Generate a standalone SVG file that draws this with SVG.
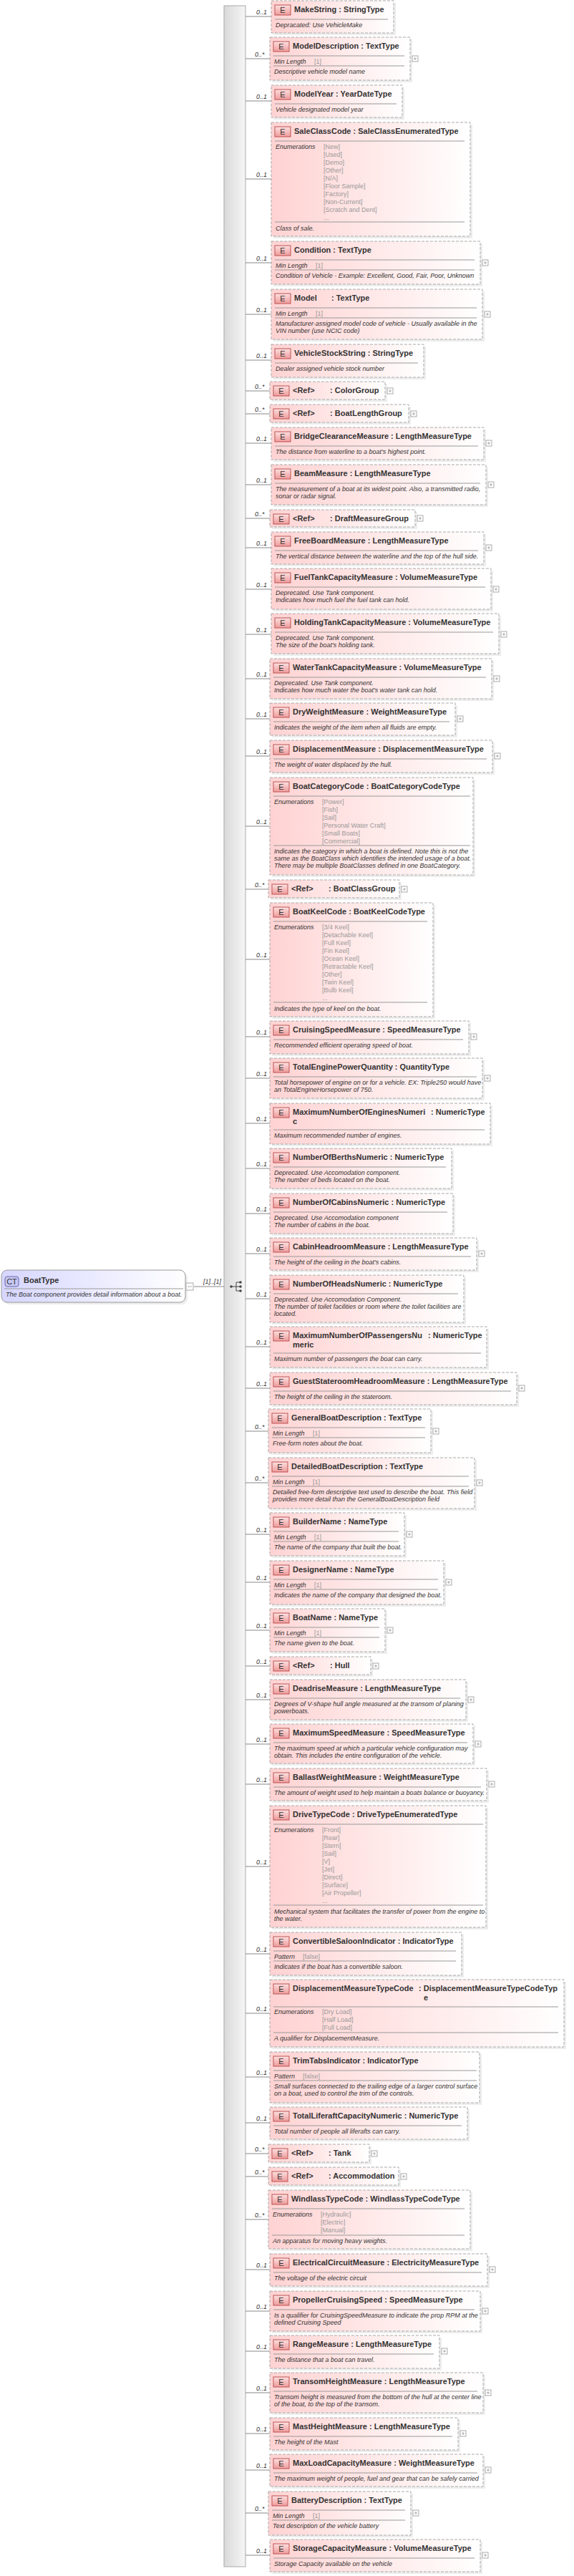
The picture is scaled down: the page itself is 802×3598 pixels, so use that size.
<svg xmlns="http://www.w3.org/2000/svg" width="802" height="3598" viewBox="0 0 802 3598">
<defs>
<linearGradient id="pg" x1="0" x2="1" y1="0" y2="0"><stop offset="0" stop-color="#ffd2d2"/><stop offset="1" stop-color="#ffffff"/></linearGradient>
<linearGradient id="eg" x1="0" x2="0" y1="0" y2="1"><stop offset="0" stop-color="#fde0e0"/><stop offset="1" stop-color="#ee9a9a"/></linearGradient>
<linearGradient id="bg" x1="0" x2="1" y1="0" y2="0"><stop offset="0" stop-color="#d9d9d9"/><stop offset="1" stop-color="#f6f6f6"/></linearGradient>
<linearGradient id="cg" x1="0" x2="1" y1="0" y2="0"><stop offset="0" stop-color="#d6d6ff"/><stop offset="1" stop-color="#ffffff"/></linearGradient>
</defs>
<style>
.box{fill:url(#pg);stroke:#aaa;stroke-dasharray:4 2}
.sh{fill:#000;opacity:.07}
.eb{fill:url(#eg);stroke:#b55}
.et{font-family:"Liberation Sans",Arial,sans-serif;font-size:11px;fill:#333;text-anchor:middle}
.t{font-family:"Liberation Sans",Arial,sans-serif;font-weight:bold;font-size:11px;fill:#333}
.d{font-family:"Liberation Sans",Arial,sans-serif;font-style:italic;font-size:9px;fill:#333}
.g{font-family:"Liberation Sans",Arial,sans-serif;font-size:9px;fill:#999}
.sep{stroke:#999;fill:none}
.c{stroke:#888;fill:none}
.m{font-family:"Liberation Sans",Arial,sans-serif;font-style:italic;font-size:9px;fill:#333}
.pb{fill:#fff;stroke:#aaa}
.pl{stroke:#aaa;fill:none}
</style>

<g id="connectors">
<rect x="313" y="8" width="30" height="3577" fill="url(#bg)" stroke="#aaa"/>
<path class="c" d="M271 1797H313"/>
<text class="m" x="284" y="1793">[1]..[1]</text>
<circle cx="323" cy="1797" r="1.8" fill="#444"/><path d="M323 1797H330M330 1791V1803M330 1791H336M330 1797H336M330 1803H336" stroke="#444" fill="none"/>
<circle cx="336" cy="1791" r="1.8" fill="#444"/><circle cx="336" cy="1797" r="1.8" fill="#444"/><circle cx="336" cy="1803" r="1.8" fill="#444"/>
<path class="c" d="M343 23H379M343 82H377M343 141H379M343 250H379M343 367H379M343 439H379M343 503H379M343 546H377M343 578H377M343 619H379M343 677H379M343 724H377M343 765H379M343 823H379M343 886H379M343 948H377M343 1004H377M343 1056H377M343 1154H377M343 1242H375M343 1340H377M343 1448H377M343 1506H377M343 1569H377M343 1632H377M343 1695H377M343 1751H377M343 1814H377M343 1881H377M343 1939H377M343 1999H375M343 2071H375M343 2143H377M343 2210H377M343 2277H377M343 2327H377M343 2374H377M343 2436H377M343 2492H377M343 2607H377M343 2729H377M343 2812H377M343 2901H377M343 2965H377M343 3008H375M343 3040H375M343 3100H375M343 3170H377M343 3228H377M343 3284H377M343 3342H377M343 3399H377M343 3450H377M343 3510H375M343 3569H377"/>
<g class="m">
<text x="358" y="20">0..1</text><text x="356" y="79">0..*</text><text x="358" y="138">0..1</text><text x="358" y="247">0..1</text><text x="358" y="364">0..1</text><text x="358" y="436">0..1</text><text x="358" y="500">0..1</text><text x="356" y="543">0..*</text><text x="356" y="575">0..*</text><text x="358" y="616">0..1</text><text x="358" y="674">0..1</text><text x="356" y="721">0..*</text><text x="358" y="762">0..1</text><text x="358" y="820">0..1</text><text x="358" y="883">0..1</text><text x="358" y="945">0..1</text><text x="358" y="1001">0..1</text><text x="358" y="1053">0..1</text><text x="358" y="1151">0..1</text><text x="356" y="1239">0..*</text><text x="358" y="1337">0..1</text><text x="358" y="1445">0..1</text><text x="358" y="1503">0..1</text><text x="358" y="1566">0..1</text><text x="358" y="1629">0..1</text><text x="358" y="1692">0..1</text><text x="358" y="1748">0..1</text><text x="358" y="1811">0..1</text><text x="358" y="1878">0..1</text><text x="358" y="1936">0..1</text><text x="356" y="1996">0..*</text><text x="356" y="2068">0..*</text><text x="358" y="2140">0..1</text><text x="358" y="2207">0..1</text><text x="358" y="2274">0..1</text><text x="358" y="2324">0..1</text><text x="358" y="2371">0..1</text><text x="358" y="2433">0..1</text><text x="358" y="2489">0..1</text><text x="358" y="2604">0..1</text><text x="358" y="2726">0..1</text><text x="358" y="2809">0..1</text><text x="358" y="2898">0..1</text><text x="358" y="2962">0..1</text><text x="356" y="3005">0..*</text><text x="356" y="3037">0..*</text><text x="356" y="3097">0..*</text><text x="358" y="3167">0..1</text><text x="358" y="3225">0..1</text><text x="358" y="3281">0..1</text><text x="358" y="3339">0..1</text><text x="358" y="3396">0..1</text><text x="358" y="3447">0..1</text><text x="356" y="3507">0..*</text><text x="358" y="3566">0..1</text>
</g>
</g>

<g id="BoatType">
<rect x="5" y="1777" width="257" height="45" rx="8" fill="#000" opacity=".07"/>
<rect x="2" y="1774" width="257" height="45" rx="8" fill="url(#cg)" stroke="#999"/>
<rect x="7" y="1783" width="19" height="14" rx="3" fill="#c8c8f4" stroke="#66a"/>
<text class="et" x="16.5" y="1794">CT</text>
<text class="t" x="33" y="1792">BoatType</text>
<path class="sep" d="M6 1800H256"/>
<text class="d" x="8" y="1811">The Boat component provides detail information about a boat.</text>
<rect class="pb" x="260" y="1792" width="10" height="10"/><path class="pl" d="M262 1797H268"/>
</g>

<g id="n1" transform="translate(379,1)"><rect class="sh" x="3" y="3" width="171" height="45"/><rect class="box" width="171" height="45"/><rect class="eb" x="5" y="6" width="22" height="14"/><text class="et" x="16" y="17">E</text><text class="t" x="32" y="16">MakeString : StringType</text><path class="sep" d="M5 26H163"/><text class="d" x="6" y="37">Depracated: Use VehicleMake</text></g>

<g id="n2" transform="translate(377,52)"><rect class="sh" x="3" y="3" width="196" height="60"/><rect class="box" width="196" height="60"/><rect class="eb" x="5" y="6" width="22" height="14"/><text class="et" x="16" y="17">E</text><text class="t" x="32" y="16">ModelDescription : TextType</text><path class="sep" d="M5 26H188M5 40H188"/><text class="d" x="6" y="37">Min Length</text><text class="g" x="62" y="37">[1]</text><text class="d" x="6" y="51">Descriptive vehicle model name</text><rect class="pb" x="199" y="26" width="8" height="8"/><path class="pl" d="M201 30H205M203 28V32"/></g>

<g id="n3" transform="translate(379,119)"><rect class="sh" x="3" y="3" width="183" height="45"/><rect class="box" width="183" height="45"/><rect class="eb" x="5" y="6" width="22" height="14"/><text class="et" x="16" y="17">E</text><text class="t" x="32" y="16">ModelYear : YearDateType</text><path class="sep" d="M5 26H175"/><text class="d" x="6" y="37">Vehicle designated model year</text></g>

<g id="n4" transform="translate(379,171)"><rect class="sh" x="3" y="3" width="278" height="159"/><rect class="box" width="278" height="159"/><rect class="eb" x="5" y="6" width="22" height="14"/><text class="et" x="16" y="17">E</text><text class="t" x="32" y="16">SaleClassCode : SaleClassEnumeratedType</text><path class="sep" d="M5 26H270M5 139H270"/><text class="d" x="6" y="37">Enumerations</text><g class="g"><text x="73" y="37">[New]</text><text x="73" y="48">[Used]</text><text x="73" y="59">[Demo]</text><text x="73" y="70">[Other]</text><text x="73" y="81">[N/A]</text><text x="73" y="92">[Floor Sample]</text><text x="73" y="103">[Factory]</text><text x="73" y="114">[Non-Current]</text><text x="73" y="125">[Scratch and Dent]</text><text x="73" y="136">...</text></g><text class="d" x="6" y="151">Class of sale.</text></g>

<g id="n5" transform="translate(379,337)"><rect class="sh" x="3" y="3" width="292" height="60"/><rect class="box" width="292" height="60"/><rect class="eb" x="5" y="6" width="22" height="14"/><text class="et" x="16" y="17">E</text><text class="t" x="32" y="16">Condition : TextType</text><path class="sep" d="M5 26H284M5 40H284"/><text class="d" x="6" y="37">Min Length</text><text class="g" x="62" y="37">[1]</text><text class="d" x="6" y="51">Condition of Vehicle - Example: Excellent, Good, Fair, Poor, Unknown</text><rect class="pb" x="295" y="26" width="8" height="8"/><path class="pl" d="M297 30H301M299 28V32"/></g>

<g id="n6" transform="translate(379,404)"><rect class="sh" x="3" y="3" width="295" height="70"/><rect class="box" width="295" height="70"/><rect class="eb" x="5" y="6" width="22" height="14"/><text class="et" x="16" y="17">E</text><text class="t" x="32" y="16">Model</text><text class="t" x="84" y="16">: TextType</text><path class="sep" d="M5 26H287M5 40H287"/><text class="d" x="6" y="37">Min Length</text><text class="g" x="62" y="37">[1]</text><text class="d" x="6" y="51">Manufacturer-assigned model code of vehicle - Usually available in the</text><text class="d" x="6" y="61">VIN number (use NCIC code)</text><rect class="pb" x="298" y="31" width="8" height="8"/><path class="pl" d="M300 35H304M302 33V37"/></g>

<g id="n7" transform="translate(379,481)"><rect class="sh" x="3" y="3" width="213" height="46"/><rect class="box" width="213" height="46"/><rect class="eb" x="5" y="6" width="22" height="14"/><text class="et" x="16" y="17">E</text><text class="t" x="32" y="16">VehicleStockString : StringType</text><path class="sep" d="M5 26H205"/><text class="d" x="6" y="37">Dealer assigned vehicle stock number</text></g>

<g id="n8" transform="translate(377,533)"><rect class="sh" x="3" y="3" width="161" height="25"/><rect class="box" width="161" height="25"/><rect class="eb" x="5" y="6" width="22" height="14"/><text class="et" x="16" y="17">E</text><text class="t" x="32" y="16">&lt;Ref&gt;</text><text class="t" x="84" y="16">: ColorGroup</text><rect class="pb" x="164" y="9" width="8" height="8"/><path class="pl" d="M166 13H170M168 11V15"/></g>

<g id="n9" transform="translate(377,565)"><rect class="sh" x="3" y="3" width="194" height="25"/><rect class="box" width="194" height="25"/><rect class="eb" x="5" y="6" width="22" height="14"/><text class="et" x="16" y="17">E</text><text class="t" x="32" y="16">&lt;Ref&gt;</text><text class="t" x="84" y="16">: BoatLengthGroup</text><rect class="pb" x="197" y="9" width="8" height="8"/><path class="pl" d="M199 13H203M201 11V15"/></g>

<g id="n10" transform="translate(379,597)"><rect class="sh" x="3" y="3" width="297" height="45"/><rect class="box" width="297" height="45"/><rect class="eb" x="5" y="6" width="22" height="14"/><text class="et" x="16" y="17">E</text><text class="t" x="32" y="16">BridgeClearanceMeasure : LengthMeasureType</text><path class="sep" d="M5 26H289"/><text class="d" x="6" y="37">The distance from waterline to a boat's highest point.</text><rect class="pb" x="300" y="18" width="8" height="8"/><path class="pl" d="M302 22H306M304 20V24"/></g>

<g id="n11" transform="translate(379,649)"><rect class="sh" x="3" y="3" width="300" height="56"/><rect class="box" width="300" height="56"/><rect class="eb" x="5" y="6" width="22" height="14"/><text class="et" x="16" y="17">E</text><text class="t" x="32" y="16">BeamMeasure : LengthMeasureType</text><path class="sep" d="M5 26H292"/><text class="d" x="6" y="37">The measurement of a boat at its widest point. Also, a transmitted radio,</text><text class="d" x="6" y="47">sonar or radar signal.</text><rect class="pb" x="303" y="24" width="8" height="8"/><path class="pl" d="M305 28H309M307 26V30"/></g>

<g id="n12" transform="translate(377,712)"><rect class="sh" x="3" y="3" width="203" height="24"/><rect class="box" width="203" height="24"/><rect class="eb" x="5" y="6" width="22" height="14"/><text class="et" x="16" y="17">E</text><text class="t" x="32" y="16">&lt;Ref&gt;</text><text class="t" x="84" y="16">: DraftMeasureGroup</text><rect class="pb" x="206" y="8" width="8" height="8"/><path class="pl" d="M208 12H212M210 10V14"/></g>

<g id="n13" transform="translate(379,743)"><rect class="sh" x="3" y="3" width="297" height="45"/><rect class="box" width="297" height="45"/><rect class="eb" x="5" y="6" width="22" height="14"/><text class="et" x="16" y="17">E</text><text class="t" x="32" y="16">FreeBoardMeasure : LengthMeasureType</text><path class="sep" d="M5 26H289"/><text class="d" x="6" y="37">The vertical distance between the waterline and the top of the hull side.</text><rect class="pb" x="300" y="18" width="8" height="8"/><path class="pl" d="M302 22H306M304 20V24"/></g>

<g id="n14" transform="translate(379,794)"><rect class="sh" x="3" y="3" width="307" height="57"/><rect class="box" width="307" height="57"/><rect class="eb" x="5" y="6" width="22" height="14"/><text class="et" x="16" y="17">E</text><text class="t" x="32" y="16">FuelTankCapacityMeasure : VolumeMeasureType</text><path class="sep" d="M5 26H299"/><text class="d" x="6" y="37">Deprecated. Use Tank component.</text><text class="d" x="6" y="47">Indicates how much fuel the fuel tank can hold.</text><rect class="pb" x="310" y="25" width="8" height="8"/><path class="pl" d="M312 29H316M314 27V31"/></g>

<g id="n15" transform="translate(379,857)"><rect class="sh" x="3" y="3" width="318" height="56"/><rect class="box" width="318" height="56"/><rect class="eb" x="5" y="6" width="22" height="14"/><text class="et" x="16" y="17">E</text><text class="t" x="32" y="16">HoldingTankCapacityMeasure : VolumeMeasureType</text><path class="sep" d="M5 26H310"/><text class="d" x="6" y="37">Deprecated. Use Tank component.</text><text class="d" x="6" y="47">The size of the boat's holding tank.</text><rect class="pb" x="321" y="25" width="8" height="8"/><path class="pl" d="M323 29H327M325 27V31"/></g>

<g id="n16" transform="translate(377,920)"><rect class="sh" x="3" y="3" width="310" height="56"/><rect class="box" width="310" height="56"/><rect class="eb" x="5" y="6" width="22" height="14"/><text class="et" x="16" y="17">E</text><text class="t" x="32" y="16">WaterTankCapacityMeasure : VolumeMeasureType</text><path class="sep" d="M5 26H302"/><text class="d" x="6" y="37">Deprecated. Use Tank component.</text><text class="d" x="6" y="47">Indicates how much water the boat's water tank can hold.</text><rect class="pb" x="313" y="24" width="8" height="8"/><path class="pl" d="M315 28H319M317 26V30"/></g>

<g id="n17" transform="translate(377,982)"><rect class="sh" x="3" y="3" width="259" height="45"/><rect class="box" width="259" height="45"/><rect class="eb" x="5" y="6" width="22" height="14"/><text class="et" x="16" y="17">E</text><text class="t" x="32" y="16">DryWeightMeasure : WeightMeasureType</text><path class="sep" d="M5 26H251"/><text class="d" x="6" y="37">Indicates the weight of the item when all fluids are empty.</text><rect class="pb" x="262" y="18" width="8" height="8"/><path class="pl" d="M264 22H268M266 20V24"/></g>

<g id="n18" transform="translate(377,1034)"><rect class="sh" x="3" y="3" width="311" height="45"/><rect class="box" width="311" height="45"/><rect class="eb" x="5" y="6" width="22" height="14"/><text class="et" x="16" y="17">E</text><text class="t" x="32" y="16">DisplacementMeasure : DisplacementMeasureType</text><path class="sep" d="M5 26H303"/><text class="d" x="6" y="37">The weight of water displaced by the hull.</text><rect class="pb" x="314" y="18" width="8" height="8"/><path class="pl" d="M316 22H320M318 20V24"/></g>

<g id="n19" transform="translate(377,1086)"><rect class="sh" x="3" y="3" width="284" height="136"/><rect class="box" width="284" height="136"/><rect class="eb" x="5" y="6" width="22" height="14"/><text class="et" x="16" y="17">E</text><text class="t" x="32" y="16">BoatCategoryCode : BoatCategoryCodeType</text><path class="sep" d="M5 26H280M5 95H280"/><text class="d" x="6" y="37">Enumerations</text><g class="g"><text x="73" y="37">[Power]</text><text x="73" y="48">[Fish]</text><text x="73" y="59">[Sail]</text><text x="73" y="70">[Personal Water Craft]</text><text x="73" y="81">[Small Boats]</text><text x="73" y="92">[Commercial]</text></g><text class="d" x="6" y="106">Indicates the category in which a boat is defined. Note this is not the</text><text class="d" x="6" y="116">same as the BoatClass which identifies the intended usage of a boat.</text><text class="d" x="6" y="126">There may be multiple BoatClasses defined in one BoatCategory.</text></g>

<g id="n20" transform="translate(375,1229)"><rect class="sh" x="3" y="3" width="183" height="25"/><rect class="box" width="183" height="25"/><rect class="eb" x="5" y="6" width="22" height="14"/><text class="et" x="16" y="17">E</text><text class="t" x="32" y="16">&lt;Ref&gt;</text><text class="t" x="84" y="16">: BoatClassGroup</text><rect class="pb" x="186" y="9" width="8" height="8"/><path class="pl" d="M188 13H192M190 11V15"/></g>

<g id="n21" transform="translate(377,1261)"><rect class="sh" x="3" y="3" width="228" height="159"/><rect class="box" width="228" height="159"/><rect class="eb" x="5" y="6" width="22" height="14"/><text class="et" x="16" y="17">E</text><text class="t" x="32" y="16">BoatKeelCode : BoatKeelCodeType</text><path class="sep" d="M5 26H220M5 139H220"/><text class="d" x="6" y="37">Enumerations</text><g class="g"><text x="73" y="37">[3/4 Keel]</text><text x="73" y="48">[Detachable Keel]</text><text x="73" y="59">[Full Keel]</text><text x="73" y="70">[Fin Keel]</text><text x="73" y="81">[Ocean Keel]</text><text x="73" y="92">[Retractable Keel]</text><text x="73" y="103">[Other]</text><text x="73" y="114">[Twin Keel]</text><text x="73" y="125">[Bulb Keel]</text><text x="73" y="136">...</text></g><text class="d" x="6" y="151">Indicates the type of keel on the boat.</text></g>

<g id="n22" transform="translate(377,1426)"><rect class="sh" x="3" y="3" width="278" height="46"/><rect class="box" width="278" height="46"/><rect class="eb" x="5" y="6" width="22" height="14"/><text class="et" x="16" y="17">E</text><text class="t" x="32" y="16">CruisingSpeedMeasure : SpeedMeasureType</text><path class="sep" d="M5 26H270"/><text class="d" x="6" y="37">Recommended efficient operating speed of boat.</text><rect class="pb" x="281" y="18" width="8" height="8"/><path class="pl" d="M283 22H287M285 20V24"/></g>

<g id="n23" transform="translate(377,1478)"><rect class="sh" x="3" y="3" width="297" height="56"/><rect class="box" width="297" height="56"/><rect class="eb" x="5" y="6" width="22" height="14"/><text class="et" x="16" y="17">E</text><text class="t" x="32" y="16">TotalEnginePowerQuantity : QuantityType</text><path class="sep" d="M5 26H289"/><text class="d" x="6" y="37">Total horsepower of engine on or for a vehicle. EX: Triple250 would have</text><text class="d" x="6" y="47">an TotalEngineHorsepower of 750.</text><rect class="pb" x="300" y="24" width="8" height="8"/><path class="pl" d="M302 28H306M304 26V30"/></g>

<g id="n24" transform="translate(377,1541)"><rect class="sh" x="3" y="3" width="308" height="57"/><rect class="box" width="308" height="57"/><rect class="eb" x="5" y="6" width="22" height="14"/><text class="et" x="16" y="17">E</text><text class="t" x="32" y="16">MaximumNumberOfEnginesNumeri</text><text class="t" x="32" y="29">c</text><text class="t" x="225" y="16">: NumericType</text><path class="sep" d="M5 37H300"/><text class="d" x="6" y="48">Maximum recommended number of engines.</text></g>

<g id="n25" transform="translate(377,1604)"><rect class="sh" x="3" y="3" width="254" height="56"/><rect class="box" width="254" height="56"/><rect class="eb" x="5" y="6" width="22" height="14"/><text class="et" x="16" y="17">E</text><text class="t" x="32" y="16">NumberOfBerthsNumeric : NumericType</text><path class="sep" d="M5 26H246"/><text class="d" x="6" y="37">Deprecated. Use Accomodation component.</text><text class="d" x="6" y="47">The number of beds located on the boat.</text></g>

<g id="n26" transform="translate(377,1667)"><rect class="sh" x="3" y="3" width="256" height="56"/><rect class="box" width="256" height="56"/><rect class="eb" x="5" y="6" width="22" height="14"/><text class="et" x="16" y="17">E</text><text class="t" x="32" y="16">NumberOfCabinsNumeric : NumericType</text><path class="sep" d="M5 26H248"/><text class="d" x="6" y="37">Deprecated. Use Accomodation component</text><text class="d" x="6" y="47">The number of cabins in the boat.</text></g>

<g id="n27" transform="translate(377,1729)"><rect class="sh" x="3" y="3" width="289" height="45"/><rect class="box" width="289" height="45"/><rect class="eb" x="5" y="6" width="22" height="14"/><text class="et" x="16" y="17">E</text><text class="t" x="32" y="16">CabinHeadroomMeasure : LengthMeasureType</text><path class="sep" d="M5 26H281"/><text class="d" x="6" y="37">The height of the ceiling in the boat's cabins.</text><rect class="pb" x="292" y="18" width="8" height="8"/><path class="pl" d="M294 22H298M296 20V24"/></g>

<g id="n28" transform="translate(377,1781)"><rect class="sh" x="3" y="3" width="271" height="66"/><rect class="box" width="271" height="66"/><rect class="eb" x="5" y="6" width="22" height="14"/><text class="et" x="16" y="17">E</text><text class="t" x="32" y="16">NumberOfHeadsNumeric : NumericType</text><path class="sep" d="M5 26H263"/><text class="d" x="6" y="37">Deprecated. Use Accomodation Component.</text><text class="d" x="6" y="47">The number of toilet facilities or room where the toilet facilities are</text><text class="d" x="6" y="57">located.</text></g>

<g id="n29" transform="translate(377,1853)"><rect class="sh" x="3" y="3" width="303" height="57"/><rect class="box" width="303" height="57"/><rect class="eb" x="5" y="6" width="22" height="14"/><text class="et" x="16" y="17">E</text><text class="t" x="32" y="16">MaximumNumberOfPassengersNu</text><text class="t" x="32" y="29">meric</text><text class="t" x="221" y="16">: NumericType</text><path class="sep" d="M5 37H295"/><text class="d" x="6" y="48">Maximum number of passengers the boat can carry.</text></g>

<g id="n30" transform="translate(377,1917)"><rect class="sh" x="3" y="3" width="345" height="45"/><rect class="box" width="345" height="45"/><rect class="eb" x="5" y="6" width="22" height="14"/><text class="et" x="16" y="17">E</text><text class="t" x="32" y="16">GuestStateroomHeadroomMeasure : LengthMeasureType</text><path class="sep" d="M5 26H337"/><text class="d" x="6" y="37">The height of the ceiling in the stateroom.</text><rect class="pb" x="348" y="18" width="8" height="8"/><path class="pl" d="M350 22H354M352 20V24"/></g>

<g id="n31" transform="translate(375,1968)"><rect class="sh" x="3" y="3" width="227" height="61"/><rect class="box" width="227" height="61"/><rect class="eb" x="5" y="6" width="22" height="14"/><text class="et" x="16" y="17">E</text><text class="t" x="32" y="16">GeneralBoatDescription : TextType</text><path class="sep" d="M5 26H219M5 40H219"/><text class="d" x="6" y="37">Min Length</text><text class="g" x="62" y="37">[1]</text><text class="d" x="6" y="51">Free-form notes about the boat.</text><rect class="pb" x="230" y="27" width="8" height="8"/><path class="pl" d="M232 31H236M234 29V33"/></g>

<g id="n32" transform="translate(375,2036)"><rect class="sh" x="3" y="3" width="288" height="71"/><rect class="box" width="288" height="71"/><rect class="eb" x="5" y="6" width="22" height="14"/><text class="et" x="16" y="17">E</text><text class="t" x="32" y="16">DetailedBoatDescription : TextType</text><path class="sep" d="M5 26H280M5 40H280"/><text class="d" x="6" y="37">Min Length</text><text class="g" x="62" y="37">[1]</text><text class="d" x="6" y="51">Detailed free-form descriptive text used to describe the boat. This field</text><text class="d" x="6" y="61">provides more detail than the GeneralBoatDescription field</text><rect class="pb" x="291" y="31" width="8" height="8"/><path class="pl" d="M293 35H297M295 33V37"/></g>

<g id="n33" transform="translate(377,2113)"><rect class="sh" x="3" y="3" width="188" height="60"/><rect class="box" width="188" height="60"/><rect class="eb" x="5" y="6" width="22" height="14"/><text class="et" x="16" y="17">E</text><text class="t" x="32" y="16">BuilderName : NameType</text><path class="sep" d="M5 26H180M5 40H180"/><text class="d" x="6" y="37">Min Length</text><text class="g" x="62" y="37">[1]</text><text class="d" x="6" y="51">The name of the company that built the boat.</text><rect class="pb" x="191" y="26" width="8" height="8"/><path class="pl" d="M193 30H197M195 28V32"/></g>

<g id="n34" transform="translate(377,2180)"><rect class="sh" x="3" y="3" width="243" height="61"/><rect class="box" width="243" height="61"/><rect class="eb" x="5" y="6" width="22" height="14"/><text class="et" x="16" y="17">E</text><text class="t" x="32" y="16">DesignerName : NameType</text><path class="sep" d="M5 26H235M5 40H235"/><text class="d" x="6" y="37">Min Length</text><text class="g" x="62" y="37">[1]</text><text class="d" x="6" y="51">Indicates the name of the company that designed the boat.</text><rect class="pb" x="246" y="26" width="8" height="8"/><path class="pl" d="M248 30H252M250 28V32"/></g>

<g id="n35" transform="translate(377,2247)"><rect class="sh" x="3" y="3" width="161" height="60"/><rect class="box" width="161" height="60"/><rect class="eb" x="5" y="6" width="22" height="14"/><text class="et" x="16" y="17">E</text><text class="t" x="32" y="16">BoatName : NameType</text><path class="sep" d="M5 26H153M5 40H153"/><text class="d" x="6" y="37">Min Length</text><text class="g" x="62" y="37">[1]</text><text class="d" x="6" y="51">The name given to the boat.</text><rect class="pb" x="164" y="26" width="8" height="8"/><path class="pl" d="M166 30H170M168 28V32"/></g>

<g id="n36" transform="translate(377,2314)"><rect class="sh" x="3" y="3" width="141" height="25"/><rect class="box" width="141" height="25"/><rect class="eb" x="5" y="6" width="22" height="14"/><text class="et" x="16" y="17">E</text><text class="t" x="32" y="16">&lt;Ref&gt;</text><text class="t" x="84" y="16">: Hull</text><rect class="pb" x="144" y="9" width="8" height="8"/><path class="pl" d="M146 13H150M148 11V15"/></g>

<g id="n37" transform="translate(377,2346)"><rect class="sh" x="3" y="3" width="274" height="56"/><rect class="box" width="274" height="56"/><rect class="eb" x="5" y="6" width="22" height="14"/><text class="et" x="16" y="17">E</text><text class="t" x="32" y="16">DeadriseMeasure : LengthMeasureType</text><path class="sep" d="M5 26H266"/><text class="d" x="6" y="37">Degrees of V-shape hull angle measured at the transom of planing</text><text class="d" x="6" y="47">powerboats.</text><rect class="pb" x="277" y="24" width="8" height="8"/><path class="pl" d="M279 28H283M281 26V30"/></g>

<g id="n38" transform="translate(377,2408)"><rect class="sh" x="3" y="3" width="284" height="55"/><rect class="box" width="284" height="55"/><rect class="eb" x="5" y="6" width="22" height="14"/><text class="et" x="16" y="17">E</text><text class="t" x="32" y="16">MaximumSpeedMeasure : SpeedMeasureType</text><path class="sep" d="M5 26H276"/><text class="d" x="6" y="37">The maximum speed at which a particular vehicle configuration may</text><text class="d" x="6" y="47">obtain. This includes the entire configuration of the vehicle.</text><rect class="pb" x="287" y="24" width="8" height="8"/><path class="pl" d="M289 28H293M291 26V30"/></g>

<g id="n39" transform="translate(377,2470)"><rect class="sh" x="3" y="3" width="303" height="45"/><rect class="box" width="303" height="45"/><rect class="eb" x="5" y="6" width="22" height="14"/><text class="et" x="16" y="17">E</text><text class="t" x="32" y="16">BallastWeightMeasure : WeightMeasureType</text><path class="sep" d="M5 26H295"/><text class="d" x="6" y="37">The amount of weight used to help maintain a boats balance or buoyancy.</text><rect class="pb" x="306" y="18" width="8" height="8"/><path class="pl" d="M308 22H312M310 20V24"/></g>

<g id="n40" transform="translate(377,2522)"><rect class="sh" x="3" y="3" width="302" height="170"/><rect class="box" width="302" height="170"/><rect class="eb" x="5" y="6" width="22" height="14"/><text class="et" x="16" y="17">E</text><text class="t" x="32" y="16">DriveTypeCode : DriveTypeEnumeratedType</text><path class="sep" d="M5 26H298M5 139H298"/><text class="d" x="6" y="37">Enumerations</text><g class="g"><text x="73" y="37">[Front]</text><text x="73" y="48">[Rear]</text><text x="73" y="59">[Stern]</text><text x="73" y="70">[Sail]</text><text x="73" y="81">[V]</text><text x="73" y="92">[Jet]</text><text x="73" y="103">[Direct]</text><text x="73" y="114">[Surface]</text><text x="73" y="125">[Air Propeller]</text><text x="73" y="136">...</text></g><text class="d" x="6" y="151">Mechanical system that facilitates the transfer of power from the engine to</text><text class="d" x="6" y="161">the water.</text></g>

<g id="n41" transform="translate(377,2699)"><rect class="sh" x="3" y="3" width="268" height="60"/><rect class="box" width="268" height="60"/><rect class="eb" x="5" y="6" width="22" height="14"/><text class="et" x="16" y="17">E</text><text class="t" x="32" y="16">ConvertibleSaloonIndicator : IndicatorType</text><path class="sep" d="M5 26H260M5 40H260"/><text class="d" x="6" y="37">Pattern</text><text class="g" x="46" y="37">[false]</text><text class="d" x="6" y="51">Indicates if the boat has a convertible saloon.</text></g>

<g id="n42" transform="translate(377,2765)"><rect class="sh" x="3" y="3" width="411" height="94"/><rect class="box" width="411" height="94"/><rect class="eb" x="5" y="6" width="22" height="14"/><text class="et" x="16" y="17">E</text><text class="t" x="32" y="16">DisplacementMeasureTypeCode</text><text class="t" x="208" y="16">: DisplacementMeasureTypeCodeTyp</text><text class="t" x="215" y="29">e</text><path class="sep" d="M5 38H403M5 74H403"/><text class="d" x="6" y="48">Enumerations</text><g class="g"><text x="73" y="48">[Dry Load]</text><text x="73" y="59">[Half Load]</text><text x="73" y="70">[Full Load]</text></g><text class="d" x="6" y="85">A qualifier for DisplacementMeasure.</text></g>

<g id="n43" transform="translate(377,2866)"><rect class="sh" x="3" y="3" width="293" height="71"/><rect class="box" width="293" height="71"/><rect class="eb" x="5" y="6" width="22" height="14"/><text class="et" x="16" y="17">E</text><text class="t" x="32" y="16">TrimTabsIndicator : IndicatorType</text><path class="sep" d="M5 26H289M5 40H289"/><text class="d" x="6" y="37">Pattern</text><text class="g" x="46" y="37">[false]</text><text class="d" x="6" y="51">Small surfaces connected to the trailing edge of a larger control surface</text><text class="d" x="6" y="61">on a boat, used to control the trim of the controls.</text></g>

<g id="n44" transform="translate(377,2943)"><rect class="sh" x="3" y="3" width="276" height="45"/><rect class="box" width="276" height="45"/><rect class="eb" x="5" y="6" width="22" height="14"/><text class="et" x="16" y="17">E</text><text class="t" x="32" y="16">TotalLiferaftCapacityNumeric : NumericType</text><path class="sep" d="M5 26H268"/><text class="d" x="6" y="37">Total number of people all liferafts can carry.</text></g>

<g id="n45" transform="translate(375,2995)"><rect class="sh" x="3" y="3" width="141" height="25"/><rect class="box" width="141" height="25"/><rect class="eb" x="5" y="6" width="22" height="14"/><text class="et" x="16" y="17">E</text><text class="t" x="32" y="16">&lt;Ref&gt;</text><text class="t" x="84" y="16">: Tank</text><rect class="pb" x="144" y="9" width="8" height="8"/><path class="pl" d="M146 13H150M148 11V15"/></g>

<g id="n46" transform="translate(375,3027)"><rect class="sh" x="3" y="3" width="182" height="25"/><rect class="box" width="182" height="25"/><rect class="eb" x="5" y="6" width="22" height="14"/><text class="et" x="16" y="17">E</text><text class="t" x="32" y="16">&lt;Ref&gt;</text><text class="t" x="84" y="16">: Accommodation</text><rect class="pb" x="185" y="9" width="8" height="8"/><path class="pl" d="M187 13H191M189 11V15"/></g>

<g id="n47" transform="translate(375,3059)"><rect class="sh" x="3" y="3" width="282" height="82"/><rect class="box" width="282" height="82"/><rect class="eb" x="5" y="6" width="22" height="14"/><text class="et" x="16" y="17">E</text><text class="t" x="32" y="16">WindlassTypeCode : WindlassTypeCodeType</text><path class="sep" d="M5 26H274M5 63H274"/><text class="d" x="6" y="37">Enumerations</text><g class="g"><text x="73" y="37">[Hydraulic]</text><text x="73" y="48">[Electric]</text><text x="73" y="59">[Manual]</text></g><text class="d" x="6" y="74">An apparatus for moving heavy weights.</text></g>

<g id="n48" transform="translate(377,3148)"><rect class="sh" x="3" y="3" width="304" height="45"/><rect class="box" width="304" height="45"/><rect class="eb" x="5" y="6" width="22" height="14"/><text class="et" x="16" y="17">E</text><text class="t" x="32" y="16">ElectricalCircuitMeasure : ElectricityMeasureType</text><path class="sep" d="M5 26H296"/><text class="d" x="6" y="37">The voltage of the electric circuit</text><rect class="pb" x="307" y="18" width="8" height="8"/><path class="pl" d="M309 22H313M311 20V24"/></g>

<g id="n49" transform="translate(377,3200)"><rect class="sh" x="3" y="3" width="294" height="56"/><rect class="box" width="294" height="56"/><rect class="eb" x="5" y="6" width="22" height="14"/><text class="et" x="16" y="17">E</text><text class="t" x="32" y="16">PropellerCruisingSpeed : SpeedMeasureType</text><path class="sep" d="M5 26H286"/><text class="d" x="6" y="37">Is a qualifier for CruisingSpeedMeasure to indicate the prop RPM at the</text><text class="d" x="6" y="47">defined Cruising Speed</text><rect class="pb" x="297" y="24" width="8" height="8"/><path class="pl" d="M299 28H303M301 26V30"/></g>

<g id="n50" transform="translate(377,3262)"><rect class="sh" x="3" y="3" width="237" height="46"/><rect class="box" width="237" height="46"/><rect class="eb" x="5" y="6" width="22" height="14"/><text class="et" x="16" y="17">E</text><text class="t" x="32" y="16">RangeMeasure : LengthMeasureType</text><path class="sep" d="M5 26H229"/><text class="d" x="6" y="37">The distance that a boat can travel.</text><rect class="pb" x="240" y="18" width="8" height="8"/><path class="pl" d="M242 22H246M244 20V24"/></g>

<g id="n51" transform="translate(377,3314)"><rect class="sh" x="3" y="3" width="298" height="56"/><rect class="box" width="298" height="56"/><rect class="eb" x="5" y="6" width="22" height="14"/><text class="et" x="16" y="17">E</text><text class="t" x="32" y="16">TransomHeightMeasure : LengthMeasureType</text><path class="sep" d="M5 26H290"/><text class="d" x="6" y="37">Transom height is measured from the bottom of the hull at the center line</text><text class="d" x="6" y="47">of the boat, to the top of the transom.</text><rect class="pb" x="301" y="24" width="8" height="8"/><path class="pl" d="M303 28H307M305 26V30"/></g>

<g id="n52" transform="translate(377,3377)"><rect class="sh" x="3" y="3" width="263" height="45"/><rect class="box" width="263" height="45"/><rect class="eb" x="5" y="6" width="22" height="14"/><text class="et" x="16" y="17">E</text><text class="t" x="32" y="16">MastHeightMeasure : LengthMeasureType</text><path class="sep" d="M5 26H255"/><text class="d" x="6" y="37">The height of the Mast</text><rect class="pb" x="266" y="18" width="8" height="8"/><path class="pl" d="M268 22H272M270 20V24"/></g>

<g id="n53" transform="translate(377,3428)"><rect class="sh" x="3" y="3" width="298" height="45"/><rect class="box" width="298" height="45"/><rect class="eb" x="5" y="6" width="22" height="14"/><text class="et" x="16" y="17">E</text><text class="t" x="32" y="16">MaxLoadCapacityMeasure : WeightMeasureType</text><path class="sep" d="M5 26H290"/><text class="d" x="6" y="37">The maximum weight of people, fuel and gear that can be safely carried</text><rect class="pb" x="301" y="18" width="8" height="8"/><path class="pl" d="M303 22H307M305 20V24"/></g>

<g id="n54" transform="translate(375,3480)"><rect class="sh" x="3" y="3" width="199" height="61"/><rect class="box" width="199" height="61"/><rect class="eb" x="5" y="6" width="22" height="14"/><text class="et" x="16" y="17">E</text><text class="t" x="32" y="16">BatteryDescription : TextType</text><path class="sep" d="M5 26H191M5 40H191"/><text class="d" x="6" y="37">Min Length</text><text class="g" x="62" y="37">[1]</text><text class="d" x="6" y="51">Text description of the vehicle battery</text><rect class="pb" x="202" y="26" width="8" height="8"/><path class="pl" d="M204 30H208M206 28V32"/></g>

<g id="n55" transform="translate(377,3547)"><rect class="sh" x="3" y="3" width="294" height="45"/><rect class="box" width="294" height="45"/><rect class="eb" x="5" y="6" width="22" height="14"/><text class="et" x="16" y="17">E</text><text class="t" x="32" y="16">StorageCapacityMeasure : VolumeMeasureType</text><path class="sep" d="M5 26H286"/><text class="d" x="6" y="37">Storage Capacity available on the vehicle</text><rect class="pb" x="297" y="18" width="8" height="8"/><path class="pl" d="M299 22H303M301 20V24"/></g>
</svg>
